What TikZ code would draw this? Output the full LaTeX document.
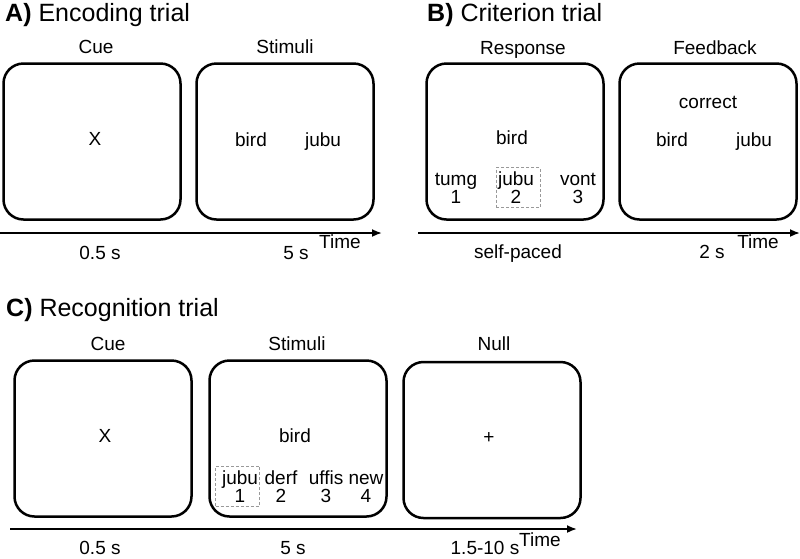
\documentclass[tikz,border=0pt]{standalone}
\usepackage{fontspec}
\setmainfont{Liberation Sans}
\usetikzlibrary{arrows.meta,positioning}

\tikzset{
  screen/.style={draw, line width=2.5pt, rounded corners=20pt,
    minimum width=177pt, minimum height=156pt, inner sep=0pt},
  lbl/.style={font=\fontsize{19}{19}\selectfont, inner sep=0pt, anchor=base},
  paneltitle/.style={font=\fontsize{25}{25}\selectfont, inner sep=0pt, anchor=base west},
  pick/.style={draw=gray!80, dash pattern=on 3pt off 2pt, line width=0.8pt,
    minimum width=44pt, minimum height=40pt, inner sep=0pt},
  timeline/.style={line width=1.8pt, -{Latex[length=10pt,width=8pt]}}
}

\begin{document}
\begin{tikzpicture}[x=1pt, y=-1pt]
    \useasboundingbox (0,0) rectangle (800,558);

    % A) encoding trial
    \node[paneltitle] (titleA) at (5,21) {\textbf{A)} Encoding trial};
    \node[screen] (cueA) at (92,141.5) {};
    \node[screen] (stimA) at (285,141.5) {};
    \node[lbl] at (96,53) {Cue};
    \node[lbl] at (285,53) {Stimuli};
    \node[lbl] (xA) at (95,145) {X};
    \node[lbl] (birdA) at (251,146) {bird};
    \node[lbl] (jubuA) at (323,146) {jubu};
    \coordinate (tA0) at (0,233);
    \coordinate (tA1) at (382,233);
    \draw[timeline] (tA0) -- (tA1);
    \node[lbl] at (340,248) {Time};
    \node[lbl] at (100,259) {0.5 s};
    \node[lbl] at (296,259) {5 s};

    % B) criterion trial
    \node[paneltitle] (titleB) at (427,21) {\textbf{B)} Criterion trial};
    \node[screen] (respB) at (515,141.5) {};
    \node[screen] (fbB) at (708,141.5) {};
    \node[lbl] at (523,54) {Response};
    \node[lbl] at (715,54) {Feedback};
    \node[lbl] (birdB) at (512,144) {bird};
    \node[pick] (pickB) at (518,187.5) {};
    \node[lbl] (optB1) at (456,185) {tumg};
    \node[lbl] at (456,203) {1};
    \node[lbl] (optB2) at (516,185) {jubu};
    \node[lbl] at (516,203) {2};
    \node[lbl] (optB3) at (578,185) {vont};
    \node[lbl] at (578,203) {3};
    \node[lbl] (corrB) at (708,108) {correct};
    \node[lbl] (birdB2) at (672,146) {bird};
    \node[lbl] (jubuB2) at (754,146) {jubu};
    \coordinate (tB0) at (418,233);
    \coordinate (tB1) at (800,233);
    \draw[timeline] (tB0) -- (tB1);
    \node[lbl] at (758,248) {Time};
    \node[lbl] at (518,258) {self-paced};
    \node[lbl] at (712,258) {2 s};

    % C) recognition trial
    \node[paneltitle] (titleC) at (6,316) {\textbf{C)} Recognition trial};
    \node[screen] (cueC) at (103,438.5) {};
    \node[screen] (stimC) at (298,438.5) {};
    \node[screen] (nullC) at (492,440) {};
    \node[lbl] at (108,350) {Cue};
    \node[lbl] at (297,350) {Stimuli};
    \node[lbl] at (494,350) {Null};
    \node[lbl] (xC) at (105,442) {X};
    \node[lbl] (birdC) at (295,442) {bird};
    \node[lbl] (plusC) at (489,443) {+};
    \node[pick] (pickC) at (237.5,486) {};
    \node[lbl] (optC1) at (240,484) {jubu};
    \node[lbl] at (240,502) {1};
    \node[lbl] (optC2) at (281,484) {derf};
    \node[lbl] at (281,502) {2};
    \node[lbl] (optC3) at (326,484) {uffis};
    \node[lbl] at (326,502) {3};
    \node[lbl] (optC4) at (366,484) {new};
    \node[lbl] at (366,502) {4};
    \coordinate (tC0) at (10,529);
    \coordinate (tC1) at (577,529);
    \draw[timeline] (tC0) -- (tC1);
    \node[lbl] at (540,546) {Time};
    \node[lbl] at (100,554) {0.5 s};
    \node[lbl] at (293,554) {5 s};
    \node[lbl] at (485,554) {1.5-10 s};
\end{tikzpicture}
\end{document}
